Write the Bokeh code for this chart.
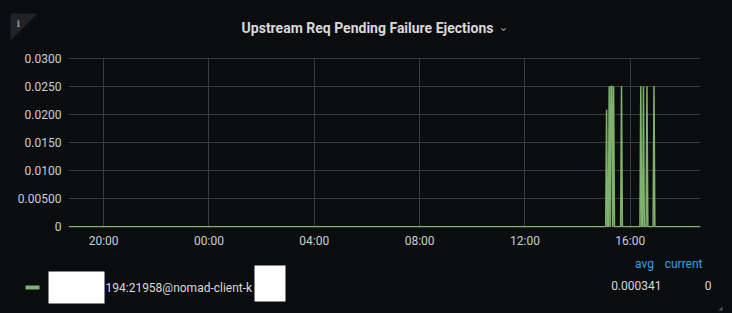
import datetime as dt
import numpy as np
from bokeh.plotting import figure
from bokeh.layouts import column
from bokeh.models import (Range1d, FixedTicker, DatetimeTickFormatter,
                          ColumnDataSource)
from bokeh.core.properties import value
from bokeh.embed import file_html
from bokeh.resources import INLINE

# ---- data ----
title = "Upstream Req Pending Failure Ejections"
series_name = "194:21958@nomad-client-k"
start_time = "2021-06-01 18:40"
end_time = "2021-06-02 18:40"
step_minutes = 2
baseline_value = 0.0
spike_times = ["2021-06-02 15:06", "2021-06-02 15:12", "2021-06-02 15:16",
               "2021-06-02 15:18", "2021-06-02 15:22", "2021-06-02 15:40",
               "2021-06-02 16:24", "2021-06-02 16:30", "2021-06-02 16:38",
               "2021-06-02 16:54"]
spike_values = [0.0208, 0.025, 0.025, 0.025, 0.025, 0.025,
                0.025, 0.025, 0.025, 0.025]
y_ticks = [0, 0.005, 0.010, 0.015, 0.020, 0.025, 0.030]
y_tick_labels = ["0", "0.00500", "0.0100", "0.0150", "0.0200", "0.0250", "0.0300"]
x_tick_times = ["2021-06-01 20:00", "2021-06-02 00:00", "2021-06-02 04:00",
                "2021-06-02 08:00", "2021-06-02 12:00", "2021-06-02 16:00"]
legend_headers = ["avg", "current"]
legend_avg = "0.000341"
legend_current = "0"

# ---- build series ----
def ms(s):
    return dt.datetime.strptime(s, "%Y-%m-%d %H:%M").replace(
        tzinfo=dt.timezone.utc).timestamp() * 1000.0

t0, t1 = ms(start_time), ms(end_time)
times = np.arange(t0, t1 + 1, step_minutes * 60000.0)
vals = np.full(len(times), baseline_value)
for st, sv in zip(spike_times, spike_values):
    idx = int(round((ms(st) - t0) / (step_minutes * 60000.0)))
    vals[idx] = sv
src = ColumnDataSource(dict(t=times, v=vals, z=np.zeros(len(times))))

BG = "#0b0c0e"
TXT = "#c7d0d9"
W = 732
H_TOP, H_MAIN, H_BOT = 45, 205, 63
ROBOTO = value("Roboto")


def panel(h):
    f = figure(width=W, height=h, output_backend="svg", toolbar_location=None,
               x_range=Range1d(0, W), y_range=Range1d(h, 0),
               min_border=0, min_border_left=0, min_border_right=0,
               min_border_top=0, min_border_bottom=0, frame_align=False)
    f.axis.visible = False
    f.grid.visible = False
    f.background_fill_color = BG
    f.border_fill_color = BG
    f.outline_line_color = None
    return f


# ---- top panel: title ----
top = panel(H_TOP)
top.patch([10, 37, 10], [13, 13, 40], fill_color="#202226", line_color=None)
top.text([18], [23], text=["i"], text_font=value("DejaVu Serif"),
         text_font_size="10px", text_font_style="bold", text_color="#8e9094",
         text_align="center", text_baseline="middle")
top.text([367], [27], text=[title], text_font=ROBOTO, text_font_size="14px",
         text_font_style="bold", text_color="#d8d9da", text_align="center",
         text_baseline="middle")
top.text([503], [26], text=["\u2304"], text_font=value("DejaVu Sans"),
         text_font_size="12px", text_color="#8e8e8e", text_align="center",
         text_baseline="middle")

# ---- main chart ----
p = figure(width=W, height=H_MAIN, output_backend="svg", toolbar_location=None,
           x_axis_type="datetime",
           x_range=Range1d(t0, t1), y_range=Range1d(-0.00012, 0.0301),
           min_border_left=68, min_border_right=32, min_border_top=12,
           min_border_bottom=22, frame_align=False)
p.background_fill_color = BG
p.border_fill_color = BG
p.outline_line_color = None

p.varea(x="t", y1="z", y2="v", source=src, fill_color="#7eb26d", fill_alpha=0.2)
p.line(x="t", y="v", source=src, line_color="#7eb26d", line_width=1.5)

p.yaxis.ticker = FixedTicker(ticks=y_ticks)
p.yaxis.major_label_overrides = {t: l for t, l in zip(y_ticks, y_tick_labels)}
p.xaxis.ticker = FixedTicker(ticks=[ms(s) for s in x_tick_times])
p.xaxis.formatter = DatetimeTickFormatter(hours="%H:%M", days="%H:%M",
                                          minutes="%H:%M")
for ax in (p.xaxis[0], p.yaxis[0]):
    ax.axis_line_color = None
    ax.major_tick_line_color = None
    ax.minor_tick_line_color = None
    ax.major_tick_out = 0
    ax.minor_tick_out = 0
    ax.major_label_text_color = TXT
    ax.major_label_text_font = "Roboto"
    ax.major_label_text_font_size = "12px"
p.yaxis.major_label_standoff = 7
p.xaxis.major_label_standoff = 6
p.xgrid.grid_line_color = "#3a3b3d"
p.ygrid.grid_line_color = "#3a3b3d"
p.xgrid.ticker = p.xaxis.ticker
p.ygrid.ticker = p.yaxis.ticker

# ---- bottom panel: legend (y measured from panel top; panel starts at 250) ----
bot = panel(H_BOT)
o = 250
bot.quad(left=[25], right=[39], top=[285 - o], bottom=[289 - o],
         fill_color="#7eb26d", line_color=None)
bot.text([105], [287 - o], text=[series_name], text_font=ROBOTO,
         text_font_size="12px", text_color="#d8d9da", text_baseline="middle")
bot.quad(left=[48, 254], right=[104, 285], top=[271 - o, 265 - o],
         bottom=[303 - o, 301 - o], fill_color="#ffffff", line_color=None)
bot.text([644, 702], [263 - o, 263 - o], text=legend_headers, text_font=ROBOTO,
         text_font_size="12px", text_color="#33a2e5",
         text_align=["center", "right"], text_baseline="middle")
bot.text([661, 711], [285 - o, 285 - o], text=[legend_avg, legend_current],
         text_font=ROBOTO, text_font_size="12px", text_color="#d8d9da",
         text_align="right", text_baseline="middle")
bot.patch([722, 722, 718], [306 - o, 310 - o, 310 - o], fill_color="#5a5a5a",
          line_color=None)

layout = column(top, p, bot, spacing=0)
html = file_html(layout, INLINE)
style = ("<style>html, body {margin:0; padding:0; background:%s;}</style>" % BG)
html = html.replace("</head>", style + "</head>", 1)
open("out.html", "w").write(html)
